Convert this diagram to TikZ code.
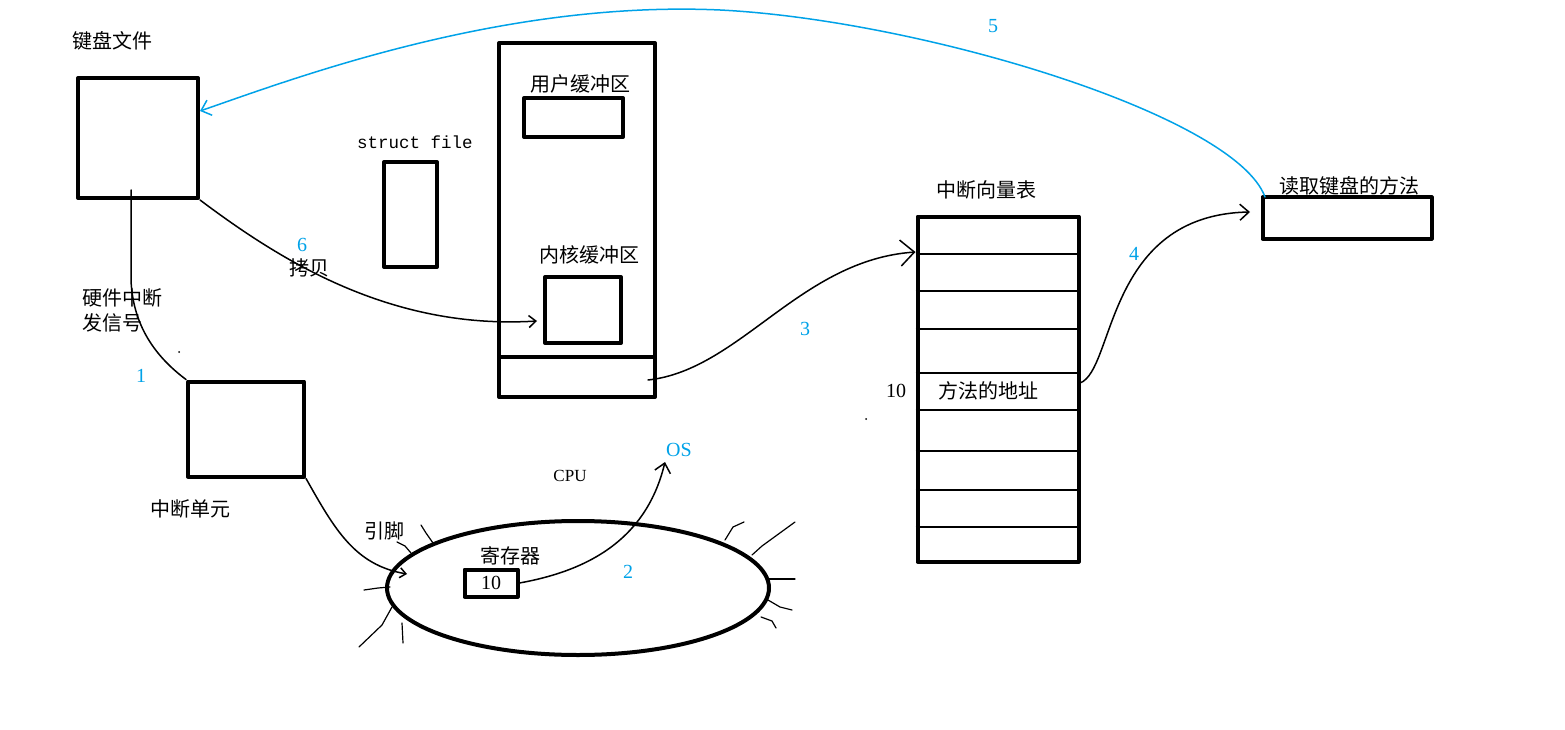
\documentclass[tikz,border=0pt]{standalone}
\usepackage{fontspec}
\setmainfont{Liberation Serif}
\newfontfamily\cjk{Noto Sans CJK SC}
\newfontfamily\mono{Liberation Mono}
\usetikzlibrary{arrows.meta,shapes.geometric}
\definecolor{paintblue}{RGB}{0,162,232}
\begin{document}
\begin{tikzpicture}[x=1pt,y=-1pt,line join=round,line cap=round,
 box/.style={draw,line width=4pt,inner sep=0pt},
 zh/.style={font=\cjk\fontsize{20}{25}\selectfont,inner sep=0pt},
 num/.style={text=paintblue,font=\fontsize{20}{20}\selectfont,inner sep=0pt},
 link/.style={line width=1.5pt,-{Straight Barb[length=9pt,width=16pt,line width=1.5pt]}},
 pin/.style={line width=1.2pt}]
 \useasboundingbox (0,0) rectangle (1565,730);
 % keyboard file and interrupt unit
 \node[box,minimum width=120,minimum height=120] (kbd) at (138,138) {};
 \node[zh] (kbdtxt) at (112,41) {键盘文件};
 \node[box,minimum width=116,minimum height=95] (intu) at (246,429) {};
 \node[zh] (intutxt) at (190,509) {中断单元};
 \node[zh,align=left,anchor=west] (hwtxt) at (82,310) {硬件中断\\发信号};
 % struct file
 \node[font=\mono\fontsize{17.5}{20}\selectfont,inner sep=0pt] (sfiletxt) at (415,142) {struct file};
 \node[box,minimum width=53,minimum height=105] (sfile) at (410.5,214.5) {};
 % memory
 \node[box,minimum width=156,minimum height=354] (mem) at (577,220) {};
 \draw[line width=4pt,line cap=butt] (mem.west |- 0,357) -- (mem.east |- 0,357);
 \node[zh] (ubuftxt) at (580,84) {用户缓冲区};
 \node[box,minimum width=99,minimum height=39] (ubuf) at (573.5,117.5) {};
 \node[zh] (kbuftxt) at (589,255) {内核缓冲区};
 \node[box,minimum width=76,minimum height=66] (kbuf) at (583,310) {};
 % cpu
 \node[box,ellipse,minimum width=382,minimum height=134] (cpu) at (578,588) {};
 \node[font=\fontsize{17}{18}\selectfont] (cputxt) at (570,476) {CPU};
 \node[zh] (regtxt) at (510,556) {寄存器};
 \node[box,minimum width=53,minimum height=27,font=\fontsize{20}{20}\selectfont] (reg) at (491,583) {10};
 \node[zh] (pintxt) at (384,531) {引脚};
 \node[num] (ostxt) at (679,450) {OS};
 \draw[pin] (421,525) -- (426,533) -- (433,543);
 \draw[pin] (397,542) -- (405,546) -- (411,553);
 \draw[pin] (364,590) -- (378,588) -- (390,587);
 \draw[pin] (392,607) -- (382,625) -- (359,647);
 \draw[pin] (402,623) -- (403,643);
 \draw[pin] (725,540) -- (733,527) -- (744,522);
 \draw[pin] (752,555) -- (762,546) -- (795,522);
 \draw[pin] (768,579) -- (795,579);
 \draw[pin] (768,600) -- (780,607) -- (792,610);
 \draw[pin] (761,617) -- (772,621) -- (776,628);
 % interrupt vector table
 \node[zh] (ivttxt) at (986,190) {中断向量表};
 \node[box,minimum width=161,minimum height=345] (ivt) at (998,389) {};
 \foreach \y in {254,291,329,373,410,451,490,527}
  \draw[line width=2pt,line cap=butt] (ivt.west |- 0,\y) -- (ivt.east |- 0,\y);
 \node[font=\fontsize{20}{20}\selectfont] (idx) at (896,391) {10};
 \node[zh] (addr) at (988,391) {方法的地址};
 % keyboard read method
 \node[zh] (mthtxt) at (1349,186) {读取键盘的方法};
 \node[box,minimum width=169,minimum height=41] (mth) at (1347,218) {};
 % connectors
 \coordinate (kbdin) at (131,190);
 \coordinate (cpuin) at (407,574);
 \coordinate (osend) at (665,462);
 \coordinate (memout) at (648,380);
 \coordinate (addrout) at (1080,383);
 \draw[line width=1.5pt] (kbdin) -- (131,280) .. controls (133,330) and (160,360) .. (intu.north west);
 \draw[link,-{Straight Barb[length=6pt,width=10pt,line width=1.5pt]}] (intu.south east) .. controls (335,530) and (355,565) .. (cpuin);
 \draw[link] (reg.east) .. controls (580,572) and (645,545) .. (osend);
 \draw[link,-{Straight Barb[length=14pt,width=26pt,line width=1.5pt]}] (memout) .. controls (740,370) and (800,260) .. (ivt.west |- 0,252);
 \draw[link] (addrout) .. controls (1115,370) and (1105,215) .. (1250,212);
 \draw[link,paintblue] (1265,197) .. controls (1235,115) and (920,20) .. (720,10) .. controls (500,0) and (290,80) .. (kbd.east |- 0,111);
 \draw[link,-{Straight Barb[length=7pt,width=12pt,line width=1.5pt]}] (kbd.south east) .. controls (280,260) and (390,330) .. (537,321);
 % step numbers
 \node[num] (n1) at (141,376) {1};
 \node[num] (n2) at (628,572) {2};
 \node[num] (n3) at (805,329) {3};
 \node[num] (n4) at (1134,254) {4};
 \node[num] (n5) at (993,26) {5};
 \node[num] (n6) at (302,245) {6};
 \node[zh] (copytxt) at (309,268) {拷贝};
 \fill (179,352) circle (1pt) (866,419) circle (1pt);
\end{tikzpicture}
\end{document}
